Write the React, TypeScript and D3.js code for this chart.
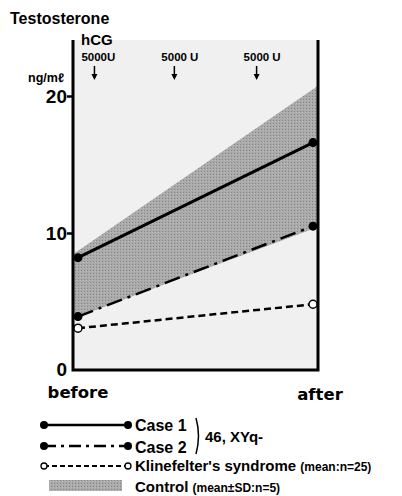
import React, { useEffect, useRef } from "react";
import * as d3 from "d3";

const timepoints = ["before", "after"];
const case1 = [8.2, 16.6];
const case2 = [3.9, 10.5];
const klinefelter = [3.05, 4.8];
const controlLow = [3.9, 10.3];
const controlHigh = [8.7, 20.5];
const yTicks = [0, 10, 20];
// hCG injections, as fraction of the before→after interval
const doseTimes = [0.07, 0.41, 0.76];
const doseLabels = ["5000U", "5000 U", "5000 U"];

export default function App() {
  const ref = useRef<SVGSVGElement>(null);

  useEffect(() => {
    const svg = d3.select(ref.current);
    svg.selectAll("*").remove();

    const W = 402, H = 496;
    const plot = { left: 73, right: 318, top: 40, bottom: 370 };
    const font = "'Liberation Sans', Arial, sans-serif";

    const x = d3.scalePoint<string>().domain(timepoints).range([78, 313]);
    const t = d3.scaleLinear().domain([0, 1]).range([78, 313]);
    const y = d3.scaleLinear().domain([0, 20]).range([plot.bottom, 96]);

    svg.attr("width", W).attr("height", H);

    // plot background
    svg.append("rect")
      .attr("x", plot.left).attr("y", plot.top)
      .attr("width", plot.right - plot.left).attr("height", plot.bottom - plot.top)
      .attr("fill", "#f0f0f0");

    // stippled gray for the control band
    const defs = svg.append("defs");
    const pat = defs.append("pattern").attr("id", "stip")
      .attr("width", 3).attr("height", 3).attr("patternUnits", "userSpaceOnUse");
    pat.append("rect").attr("width", 3).attr("height", 3).attr("fill", "#aaaaaa");
    pat.append("rect").attr("width", 1).attr("height", 1).attr("fill", "#868686");
    pat.append("rect").attr("x", 2).attr("y", 1).attr("width", 1).attr("height", 1).attr("fill", "#bdbdbd");

    // control band (mean ± SD), stretched out to the frame
    const extend = (arr: number[], f: number) => arr[0] + (arr[1] - arr[0]) * f;
    const f0 = (plot.left - 78) / (313 - 78), f1 = (plot.right - 78) / (313 - 78);
    const bandX = d3.scaleLinear().domain([0, 1]).range([plot.left, plot.right]);
    svg.append("path")
      .datum([f0, f1])
      .attr("d", d3.area<number>()
        .x((d, i) => bandX(i))
        .y0((d) => y(extend(controlLow, d)))
        .y1((d) => y(extend(controlHigh, d))))
      .attr("fill", "url(#stip)");

    // frame: left, bottom, right
    svg.append("path")
      .attr("d", `M${plot.left},${plot.top}V${plot.bottom}H${plot.right}V${plot.top}`)
      .attr("fill", "none").attr("stroke", "#000").attr("stroke-width", 3);

    // y ticks
    const yAxis = svg.append("g").attr("transform", `translate(${plot.left},0)`)
      .call(d3.axisLeft(y).tickValues(yTicks).tickSize(6).tickFormat(d3.format("d")));
    yAxis.select(".domain").remove();
    yAxis.selectAll("line").attr("stroke", "#000").attr("stroke-width", 2.5);
    yAxis.selectAll("text")
      .attr("font-family", "'Liberation Sans Narrow', 'Liberation Sans', sans-serif")
      .attr("font-weight", "bold").attr("font-size", 19)
      .attr("fill", "#000").attr("x", -6).attr("dy", "0.36em");
    yAxis.selectAll("g.tick").filter((d) => d === 0).select("line").remove();
    yAxis.selectAll("g.tick").filter((d) => d === 0).select("text").attr("y", -1);

    // lines
    const line = d3.line<number>().x((d, i) => x(timepoints[i])!).y((d) => y(d));
    svg.append("path").datum(klinefelter).attr("d", line)
      .attr("fill", "none").attr("stroke", "#000").attr("stroke-width", 2.5)
      .attr("stroke-dasharray", "7 4");
    svg.append("path").datum(case2).attr("d", line)
      .attr("fill", "none").attr("stroke", "#000").attr("stroke-width", 2.5)
      .attr("stroke-dasharray", "16 6 3 6");
    svg.append("path").datum(case1).attr("d", line)
      .attr("fill", "none").attr("stroke", "#000").attr("stroke-width", 3);

    [case1, case2].forEach((s) => {
      svg.selectAll(null).data(s).join("circle")
        .attr("cx", (d, i) => x(timepoints[i])!).attr("cy", (d) => y(d))
        .attr("r", 4.5).attr("fill", "#000");
    });
    svg.selectAll(null).data(klinefelter).join("circle")
      .attr("cx", (d, i) => x(timepoints[i])!).attr("cy", (d) => y(d))
      .attr("r", 4).attr("fill", "#fff").attr("stroke", "#000").attr("stroke-width", 1.5);

    // texts
    const text = (tx: number, ty: number, s: string, size: number, anchor = "start") =>
      svg.append("text").attr("x", tx).attr("y", ty).text(s)
        .attr("font-family", font).attr("font-weight", "bold").attr("font-size", size)
        .attr("text-anchor", anchor).attr("fill", "#000");

    text(10, 24, "Testosterone", 16);
    text(81, 45, "hCG", 15);
    text(64, 82, "ng/mℓ", 12.5, "end");

    doseTimes.forEach((d, i) => {
      text(t(d) - 13, 61, doseLabels[i], 11.5);
      svg.append("line").attr("x1", t(d)).attr("x2", t(d)).attr("y1", 66).attr("y2", 78)
        .attr("stroke", "#000").attr("stroke-width", 1.5);
      svg.append("path")
        .attr("d", `M${t(d) - 3},${74}L${t(d)},${80}L${t(d) + 3},${74}Z`).attr("fill", "#000");
    });

    text(x("before")!, 398, "before", 16.5, "middle").attr("font-family", "'DejaVu Sans', sans-serif");
    text(x("after")! + 7, 400, "after", 16.5, "middle").attr("font-family", "'DejaVu Sans', sans-serif");

    // legend
    const lx0 = 44, lx1 = 128, tx = 135;
    const rows = [425, 446, 466, 486];
    svg.append("line").attr("x1", lx0).attr("x2", lx1).attr("y1", rows[0]).attr("y2", rows[0])
      .attr("stroke", "#000").attr("stroke-width", 2.5);
    svg.append("line").attr("x1", lx0).attr("x2", lx1).attr("y1", rows[1]).attr("y2", rows[1])
      .attr("stroke", "#000").attr("stroke-width", 2.5).attr("stroke-dasharray", "12 5 3 5");
    svg.append("line").attr("x1", lx0).attr("x2", lx1).attr("y1", rows[2]).attr("y2", rows[2])
      .attr("stroke", "#000").attr("stroke-width", 2).attr("stroke-dasharray", "5 3");
    [lx0, lx1].forEach((cx) => {
      svg.append("circle").attr("cx", cx).attr("cy", rows[0]).attr("r", 4).attr("fill", "#000");
      svg.append("circle").attr("cx", cx).attr("cy", rows[1]).attr("r", 4).attr("fill", "#000");
      svg.append("circle").attr("cx", cx).attr("cy", rows[2]).attr("r", 3)
        .attr("fill", "#fff").attr("stroke", "#000").attr("stroke-width", 1.3);
    });
    svg.append("rect").attr("x", 49).attr("y", rows[3] - 6).attr("width", 73).attr("height", 11)
      .attr("fill", "url(#stip)");

    text(tx, rows[0] + 6, "Case 1", 16);
    text(tx, rows[1] + 7, "Case 2", 16);
    svg.append("path").attr("d", "M196,418Q201,436 196,454")
      .attr("fill", "none").attr("stroke", "#000").attr("stroke-width", 1.5);
    text(205, 442, "46,  XYq-", 15);

    const kl = text(tx, rows[2] + 5, "Klinefelter's syndrome ", 15);
    kl.append("tspan").attr("font-size", 12).text("(mean:n=25)");
    const ct = text(tx, rows[3] + 6, "Control  ", 15);
    ct.append("tspan").attr("font-size", 12).text("(mean±SD:n=5)");
  }, []);

  return <svg ref={ref} style={{ position: "absolute", left: 0, top: 0 }} />;
}
